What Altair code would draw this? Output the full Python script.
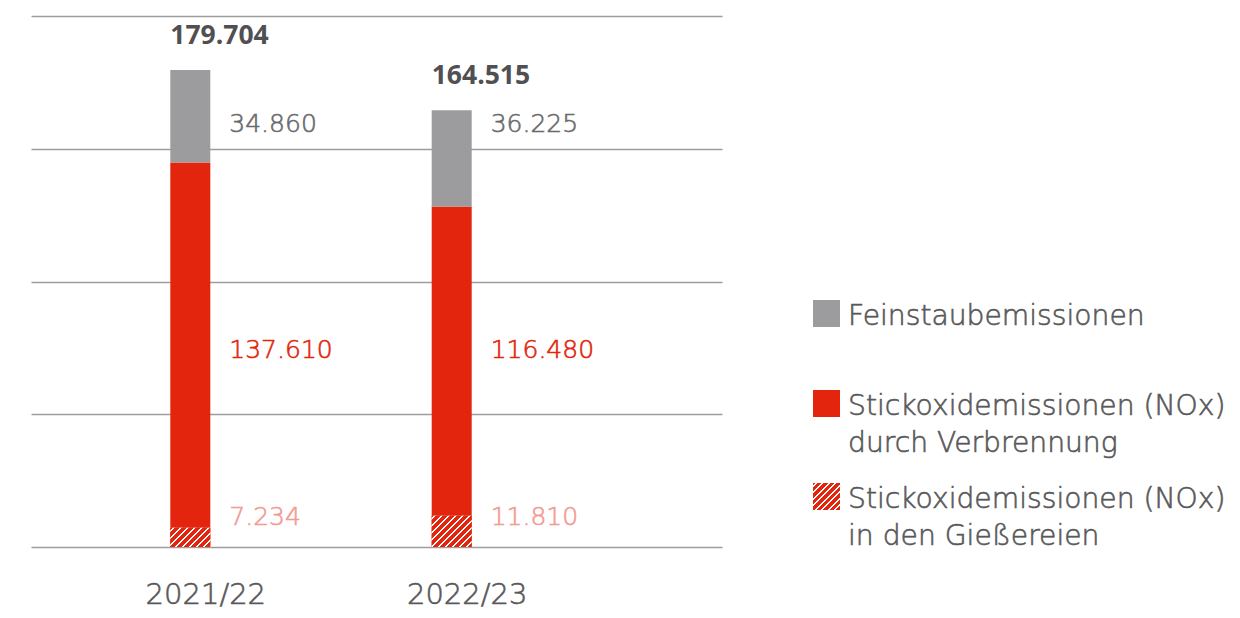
import altair as alt
import pandas as pd

years = ["2021/22", "2022/23"]
series = ["Stickoxidemissionen (NOx) in den Gießereien",
          "Stickoxidemissionen (NOx) durch Verbrennung",
          "Feinstaubemissionen"]
foundry = [7.234, 11.810]
combustion = [137.610, 116.480]
dust = [34.860, 36.225]
totals = [179.704, 164.515]
label_foundry = ["7.234", "11.810"]
label_combustion = ["137.610", "116.480"]
label_dust = ["34.860", "36.225"]
label_totals = ["179.704", "164.515"]
legend_labels = ["Feinstaubemissionen",
                 "Stickoxidemissionen (NOx)\ndurch Verbrennung",
                 "Stickoxidemissionen (NOx)\nin den Gießereien"]

GRAY = "#9c9c9e"
RED = "#e2250c"
SALMON = "#f29b93"
TXT = "#58585a"
FONT = "DejaVu Sans"
BOLDFONT = "Open Sans"
SW = 0.6  # stroke to thicken the light face a little

W, H = 691, 531
BAR_W = 40
X_SHIFT = -55.5


def hatch(w, h, period=7.0, line=2.2):
    r = h / w
    a = (1 + r) / (1 + r * r)
    L = w + h
    stops = [{"offset": 0, "color": RED}]
    s = 2.0
    while s < L:
        e = min(s + line, L)
        stops += [{"offset": s / L, "color": RED}, {"offset": s / L, "color": "#ffffff"},
                  {"offset": e / L, "color": "#ffffff"}, {"offset": e / L, "color": RED}]
        s += period
    stops.append({"offset": 1, "color": RED})
    return {"gradient": "linear", "x1": 0, "y1": 0, "x2": a, "y2": a * r, "stops": stops}


rows = []
for i, y in enumerate(years):
    rows.append({"year": y, "series": series[0], "value": foundry[i], "order": 0, "label": label_foundry[i]})
    rows.append({"year": y, "series": series[1], "value": combustion[i], "order": 1, "label": label_combustion[i]})
    rows.append({"year": y, "series": series[2], "value": dust[i], "order": 2, "label": label_dust[i]})
df = pd.DataFrame(rows)
tot = pd.DataFrame({"year": years, "total": totals, "label": label_totals})

xscale = alt.Scale(paddingInner=0, paddingOuter=0.3218)
yscale = alt.Scale(domain=[0, 200], nice=False)
yaxis = alt.Axis(values=[0, 50, 100, 150, 200], grid=True, gridColor="#9d9d9d",
                 gridWidth=1.4, domain=False, ticks=False, labels=False, title=None)

bars = alt.Chart(df).mark_bar(size=BAR_W, xOffset=X_SHIFT, strokeWidth=0).encode(
    x=alt.X("year:N", sort=years, title=None, scale=xscale, axis=None),
    y=alt.Y("value:Q", stack="zero", scale=yscale, axis=yaxis),
    color=alt.Color("series:N", scale=alt.Scale(domain=series, range=[RED, RED, GRAY]), legend=None),
    order=alt.Order("order:Q"),
)

px = H / 200.0
hatch_layers = []
for i, yv in enumerate(years):
    hatch_layers.append(
        alt.Chart(df).transform_filter(
            (alt.datum.year == yv) & (alt.datum.order == 0)
        ).mark_bar(size=BAR_W, xOffset=X_SHIFT, fill=hatch(BAR_W, foundry[i] * px), strokeWidth=0).encode(
            x=alt.X("year:N", sort=years),
            y=alt.Y("value:Q", scale=yscale),
        )
    )

# category labels below the bars
year_text = alt.Chart(tot).mark_text(
    align="center", baseline="alphabetic", xOffset=-40, fontSize=29, font=FONT,
    fontWeight=300, color=TXT, stroke=TXT, strokeWidth=SW
).encode(x=alt.X("year:N", sort=years), y=alt.value(H + 57), text="year:N")

LBL_X = X_SHIFT + BAR_W / 2 + 19
label_y = {0: 501, 1: 334, 2: 108}
label_col = {0: SALMON, 1: RED, 2: "#6a6a6c"}
label_layers = []
for k in range(3):
    label_layers.append(
        alt.Chart(df).transform_filter(alt.datum.order == k).mark_text(
            align="left", baseline="middle", xOffset=LBL_X, fontSize=25, font=FONT,
            fontWeight=300, color=label_col[k], stroke=label_col[k], strokeWidth=SW
        ).encode(x=alt.X("year:N", sort=years), y=alt.value(label_y[k]), text="label:N")
    )

total_text = alt.Chart(tot).mark_text(
    align="left", baseline="alphabetic", xOffset=X_SHIFT - BAR_W / 2, dy=-26,
    fontSize=26.5, font=BOLDFONT, fontWeight="bold", color="#505052"
).encode(x=alt.X("year:N", sort=years), y=alt.Y("total:Q", scale=yscale), text="label:N")

# legend
leg = pd.DataFrame({"label": legend_labels, "idx": [0, 1, 2]})
sw_y = [284, 374, 467]
sw_fill = [GRAY, RED, None]
leg_layers = []
for i in range(3):
    fill = sw_fill[i] if sw_fill[i] else hatch(27, 27, period=6.5, line=2.0)
    leg_layers.append(
        alt.Chart(leg).transform_filter(alt.datum.idx == i).mark_rect(fill=fill, strokeWidth=0).encode(
            x=alt.value(782), x2=alt.value(809), y=alt.value(sw_y[i]), y2=alt.value(sw_y[i] + 27)
        )
    )
    leg_layers.append(
        alt.Chart(leg).transform_filter(alt.datum.idx == i).mark_text(
            align="left", baseline="alphabetic", fontSize=28.2, font=FONT, fontWeight=300,
            color=TXT, stroke=TXT, strokeWidth=SW, lineBreak="\n", lineHeight=37
        ).encode(x=alt.value(817), y=alt.value(sw_y[i] + 25), text="label:N")
    )

chart = alt.layer(bars, *hatch_layers, year_text, *label_layers, total_text, *leg_layers).properties(
    width=W, height=H,
    autosize=alt.AutoSizeParams(type="none"),
    padding={"left": 23, "top": 8, "right": 510, "bottom": 63},
).configure_view(stroke=None)

chart.save("out.html", embed_options={"renderer": "svg", "actions": False})
